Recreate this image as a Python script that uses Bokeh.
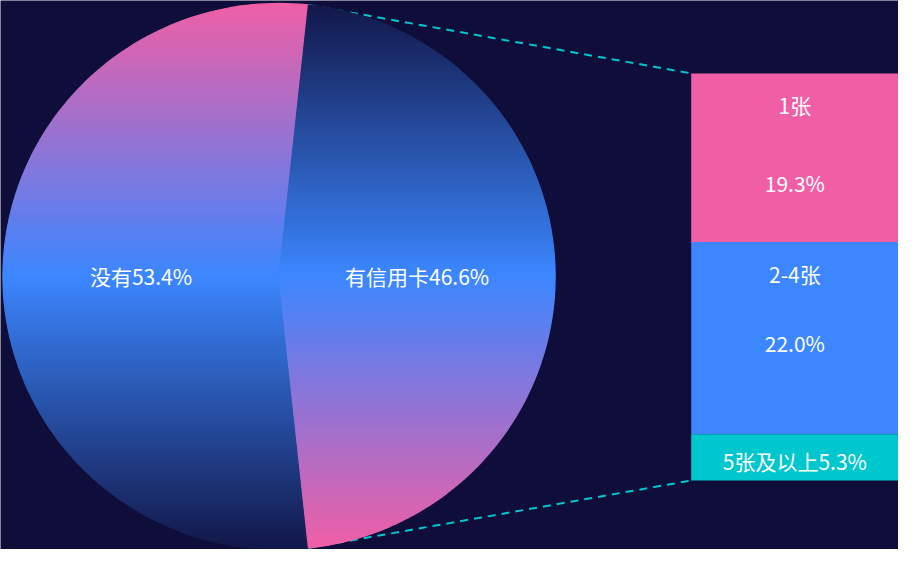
import numpy as np
from bokeh.plotting import figure
from bokeh.models import Range1d, ColumnDataSource
from bokeh.embed import file_html
from bokeh.resources import INLINE
from bokeh.core.properties import value

# ---------------- data ----------------
pie_names = ["没有", "有信用卡"]
pie_values = [53.4, 46.6]
bar_names = ["1张", "2-4张", "5张及以上"]
bar_values = [19.3, 22.0, 5.3]

# ---------------- style ----------------
BG = "#0f0d3a"
PINK = "#f05fa6"
BLUE = "#3c87ff"
CYAN = "#00c6ce"
DARK = "#121849"
bar_colors = [PINK, BLUE, CYAN]
FONT = value("Noto Sans CJK SC")
FS = "21px"

W, H = 914, 565
p = figure(width=898, height=549, x_range=Range1d(0, W), y_range=Range1d(H, 0),
           output_backend="svg", toolbar_location=None, min_border=0,
           background_fill_color=BG, border_fill_color=BG, outline_line_color=None)
p.axis.visible = False
p.grid.visible = False


def hex2rgb(h):
    return np.array([int(h[i:i + 2], 16) for i in (1, 3, 5)], float)


def grad(stops, t):
    t = min(max(t, 0.0), 1.0)
    for (p0, c0), (p1, c1) in zip(stops[:-1], stops[1:]):
        if t <= p1:
            f = (t - p0) / (p1 - p0)
            c = hex2rgb(c0) * (1 - f) + hex2rgb(c1) * f
            return "#%02x%02x%02x" % tuple(int(round(v)) for v in c)
    return stops[-1][1]


# ---------------- pie geometry ----------------
CX, CY, R = 283.5, 284.0, 281.0
total = sum(pie_values)
half = np.pi * pie_values[1] / total          # half-angle of right slice
cot = np.cos(half) / np.sin(half)
kink = R * np.sin(half)


def arc_x(dy):
    return np.sqrt(np.maximum(R * R - dy * dy, 0.0))


def strips(y0, y1, n, left_fn, right_fn, extra, stops):
    xs_list, ys_list, cols = [], [], []
    edges = np.linspace(y0, y1, n + 1)
    for a, b in zip(edges[:-1], edges[1:]):
        pts = list(np.linspace(a, b, 5)) + [k for k in extra if a < k < b]
        pts = np.array(sorted(pts))
        lx = left_fn(pts)
        rx = right_fn(pts)
        xs = np.concatenate([lx, rx[::-1]]) + CX
        ys = np.concatenate([pts, pts[::-1]]) + CY
        xs_list.append(list(xs))
        ys_list.append(list(ys))
        cols.append(grad(stops, ((a + b) / 2 - y0) / (y1 - y0)))
    return dict(xs=xs_list, ys=ys_list, c=cols)


left_src = strips(-R, R, 180,
                  lambda d: -arc_x(d),
                  lambda d: np.minimum(np.abs(d) * cot, arc_x(d)),
                  [-kink, kink, 0.0],
                  [(0.0, PINK), (0.5, BLUE), (1.0, DARK)])
right_src = strips(-kink, kink, 180,
                   lambda d: np.abs(d) * cot,
                   lambda d: arc_x(d),
                   [0.0],
                   [(0.0, DARK), (0.5, BLUE), (1.0, PINK)])

# ---------------- bar geometry ----------------
BX0, BX1, BTOP, BBOT = 703.0, 914.0, 75.0, 494.0
scale = (BBOT - BTOP) / sum(bar_values)
tops, bots = [], []
acc = BTOP
for v in bar_values:
    tops.append(acc)
    acc += v * scale
    bots.append(acc)

# ---------------- connector lines ----------------
top_pt = (CX + R * np.cos(half), CY - R * np.sin(half))
bot_pt = (CX + R * np.cos(half), CY + R * np.sin(half))
p.line([top_pt[0], BX0], [top_pt[1], BTOP], line_color=CYAN, line_width=2, line_dash="8 6")
p.line([bot_pt[0], BX0], [bot_pt[1], BBOT], line_color=CYAN, line_width=2, line_dash="8 6")

# ---------------- pie ----------------
for src in (left_src, right_src):
    p.patches(xs="xs", ys="ys", fill_color="c", line_color="c", line_width=1.2,
              source=ColumnDataSource(src))

# pie labels at mid-angles, half radius
mid_angles = [np.pi, 0.0]
p.text(x=[CX + 0.5 * R * np.cos(a) for a in mid_angles],
       y=[CY - 0.5 * R * np.sin(a) for a in mid_angles],
       text=[f"{n}{v}%" for n, v in zip(pie_names, pie_values)],
       text_align="center", text_baseline="middle", text_font=FONT,
       text_font_size=FS, text_color="#ffffff")

# ---------------- bar ----------------
p.quad(left=BX0, right=BX1, top=tops, bottom=bots, fill_color=bar_colors, line_color=None)

bx = (BX0 + BX1) / 2
name_off = 33
value_off = [113, 104]
lx, ly, lt = [], [], []
for i, (n, v) in enumerate(zip(bar_names, bar_values)):
    if i < 2:
        lx += [bx, bx]
        ly += [tops[i] + name_off, tops[i] + value_off[i]]
        lt += [n, f"{v}%"]
    else:
        lx.append(bx)
        ly.append((tops[i] + bots[i]) / 2 + 4)
        lt.append(f"{n}{v}%")
p.text(x=lx, y=ly, text=lt, text_align="center", text_baseline="middle",
       text_font=FONT, text_font_size=FS, text_color="#ffffff")

open("out.html", "w").write(file_html(p, INLINE))
